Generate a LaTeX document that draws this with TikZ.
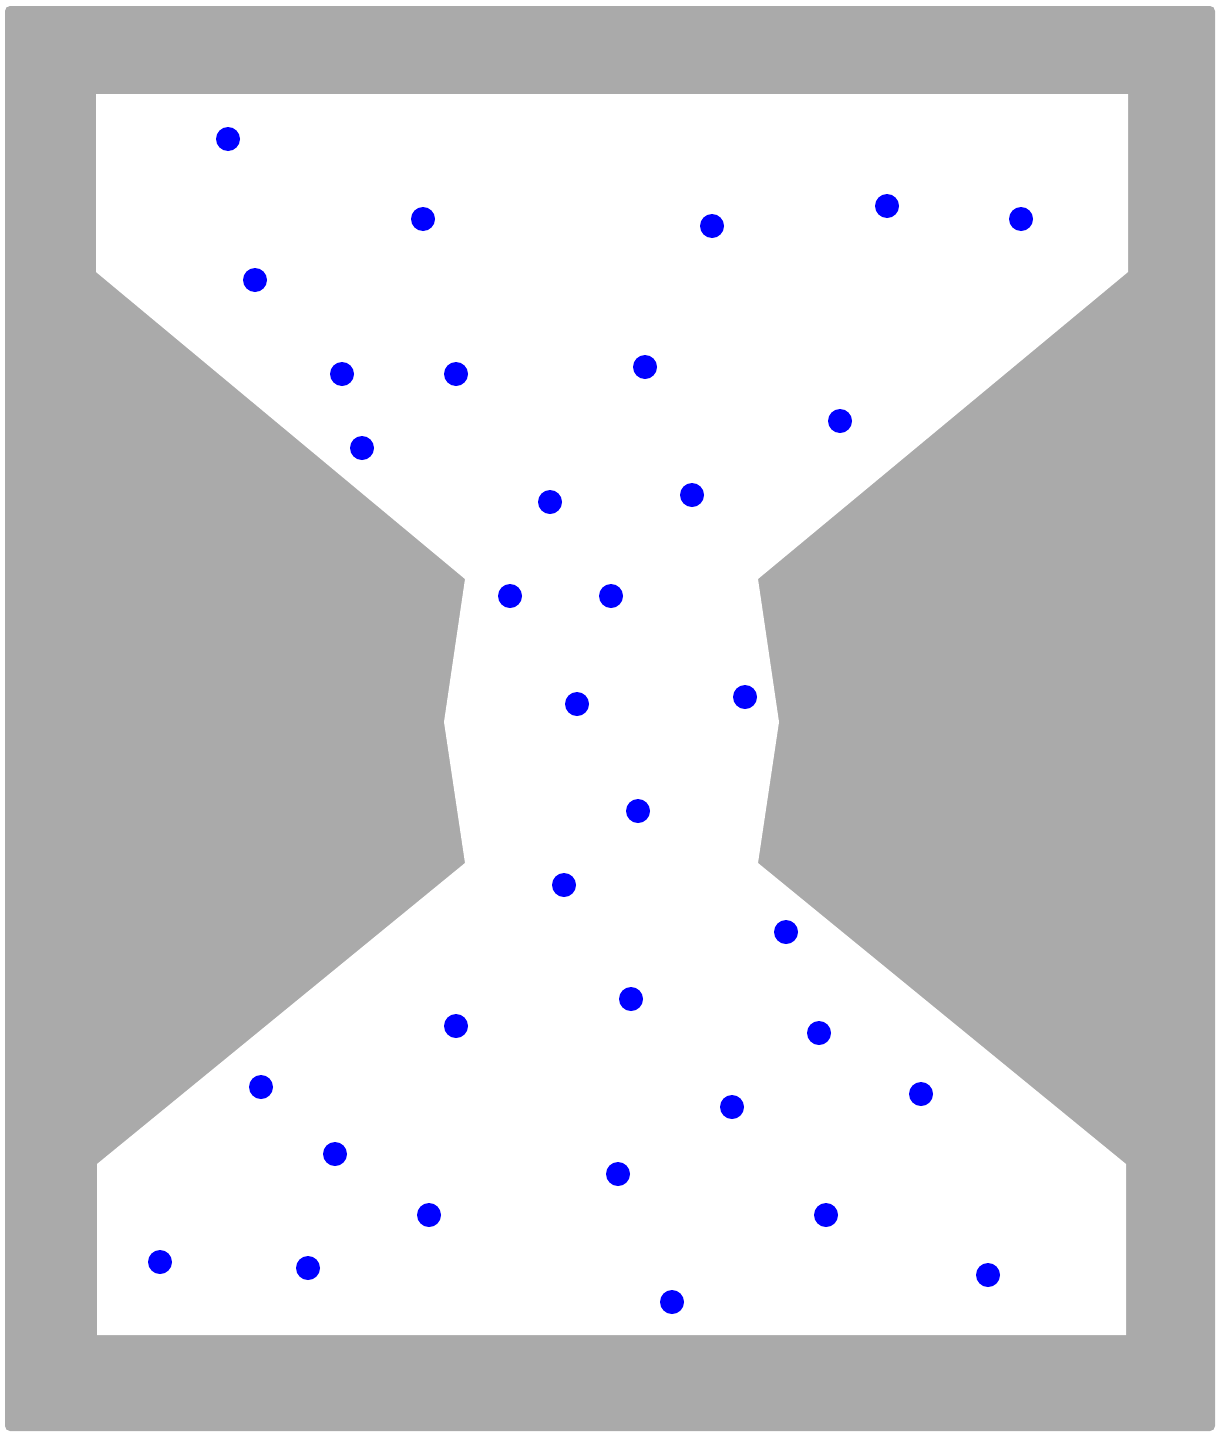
\documentclass[tikz,border=0pt]{standalone}
\definecolor{wallgray}{HTML}{AAAAAA}
\definecolor{dotblue}{HTML}{0000FF}
\begin{document}
\begin{tikzpicture}[x=1pt,y=-1pt,
  particle/.style={fill=dotblue,draw=none}]
\useasboundingbox (0,0) rectangle (1216,1432);
\fill[white] (0,0) rectangle (1216,1432);
\fill[wallgray,rounded corners=5pt] (5,6) rectangle (1215,1431);
\fill[white] (96,94) -- (1128,94) -- (1128,272) -- (758,579) -- (779,722) -- (758,863)
  -- (1126,1164) -- (1126,1335) -- (97,1335) -- (97,1164) -- (465,863) -- (444,722)
  -- (465,579) -- (96,272) -- cycle;
\foreach \x/\y in {228/139, 423/219, 712/226, 887/206, 1021/219, 255/280, 342/374,
  456/374, 645/367, 840/421, 362/448, 550/502, 692/495, 510/596, 611/596, 577/704,
  745/697, 638/811, 564/885, 786/932, 631/999, 456/1026, 819/1033, 261/1087,
  732/1107, 921/1094, 335/1154, 618/1174, 429/1215, 826/1215, 160/1262, 308/1268,
  988/1275, 672/1302}
  \fill[particle] (\x,\y) circle[radius=12];
\end{tikzpicture}
\end{document}
